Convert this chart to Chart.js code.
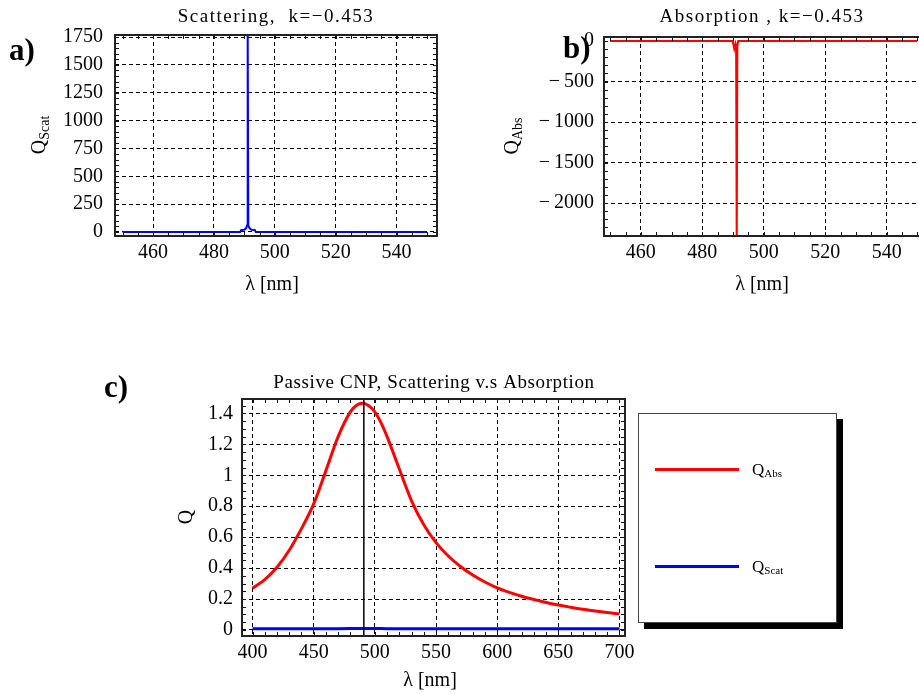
<!DOCTYPE html>
<html lang="en">
<head>
<meta charset="UTF-8">
<title>Passive CNP scattering and absorption</title>
<style>
    * { box-sizing: border-box; margin: 0; padding: 0; }
    html, body { width: 919px; height: 694px; overflow: hidden; background: #fff; }
    canvas { position: absolute; }
    #chartA { left: 0; top: 0; }
    #chartB { left: 450px; top: 0; }
    #chartC { left: 100px; top: 360px; }
    #legendC {
        position: absolute; left: 638px; top: 413px; width: 199px; height: 210px;
        border: 1.5px solid #444; background: #fff; box-shadow: 6px 6px 0 #000;
        font-family: "Liberation Serif", serif; color: #000;
    }
    .item { position: absolute; left: 16px; width: 170px; height: 24px; }
    .item .swatch { position: absolute; left: 0; top: 10px; width: 84px; height: 3px; }
    .item .name { position: absolute; left: 97px; top: 0; font-size: 17px; line-height: 24px; }
    .item sub { font-size: 11px; vertical-align: -2px; }
</style>
</head>
<body>
    <canvas id="chartA" width="450" height="300"></canvas>
    <canvas id="chartB" width="490" height="300"></canvas>
    <canvas id="chartC" width="570" height="334"></canvas>
    <div id="legendC"></div>

    <script src="https://cdn.jsdelivr.net/npm/chart.js@4.4.1/dist/chart.umd.min.js"></script>
    <script>
        "use strict";

        // a) scattering, k = -0.453
        const scatLambda = [450, 480, 488.6, 489.0, 490.0, 490.6, 490.9, 491.1, 491.3, 491.7, 492.3, 493.4, 493.8, 500, 520, 550]
        const scatQ      = [0,   0,   0,     18,    20,    35,    60,    1790,  60,    35,    20,    18,    0,     0,   0,   0]

        // b) absorption, k = -0.453
        const absLambda  = [450, 480, 489.9, 490.4, 490.8, 491.0, 491.2, 491.4, 491.7, 500, 520, 550]
        const absQ       = [0,   0,   0,     -95,   -30,   -60,   -2600, -60,   0,     0,   0,   0]

        // c) passive CNP, scattering vs absorption
        const cLambda = [400, 410, 420, 430, 440, 450, 460, 470, 480, 485, 490, 495, 500, 505, 510, 520, 530, 540,
                         550, 560, 570, 580, 590, 600, 610, 620, 630, 640, 650, 660, 670, 680, 690, 700]
        const cQAbs   = [0.27, 0.325, 0.405, 0.515, 0.655, 0.815, 1.03, 1.25, 1.41, 1.452, 1.466, 1.45, 1.41, 1.34, 1.25, 1.04, 0.835, 0.68,
                         0.565, 0.478, 0.41, 0.355, 0.31, 0.272, 0.243, 0.218, 0.197, 0.178, 0.161, 0.147, 0.134, 0.123, 0.113, 0.104]
        const cQScat  = [0.008, 0.008, 0.008, 0.008, 0.008, 0.008, 0.008, 0.008, 0.009, 0.009, 0.009, 0.009, 0.009, 0.009, 0.008, 0.008, 0.008, 0.008,
                         0.008, 0.008, 0.008, 0.008, 0.008, 0.008, 0.008, 0.008, 0.008, 0.008, 0.008, 0.008, 0.008, 0.008, 0.008, 0.008]
        const peakLambda = [491, 491]
        const peakQ      = [-0.04, 1.5]

        const seriesNames  = [["Q", "Abs"], ["Q", "Scat"]]
        const seriesColors = ["#ff0000", "#0000ff"]

        // tick labels
        const abTicksX = [460, 480, 500, 520, 540]
        const aTicksY  = [0, 250, 500, 750, 1000, 1250, 1500, 1750]
        const bTicksY  = [0, -500, -1000, -1500, -2000]
        const cTicksX  = [400, 450, 500, 550, 600, 650, 700]
        const cTicksY  = [0, 0.2, 0.4, 0.6, 0.8, 1, 1.2, 1.4]

        const SERIF = '"Liberation Serif", "Times New Roman", serif'

        function pts(xs, ys) {
            return xs.map((x, i) => ({ x: x, y: ys[i] }))
        }

        function minusFmt(v) {
            return v < 0 ? "\u2212\u2009" + Math.abs(v) : String(v)
        }

        // text with a subscript, optionally rotated (y-axis labels)
        function drawSubText(ctx, main, sub, x, y, size, rotated) {
            ctx.save()
            ctx.translate(x, y)
            if (rotated) ctx.rotate(-Math.PI / 2)
            ctx.font = size + "px " + SERIF
            const w1 = ctx.measureText(main).width
            ctx.font = Math.round(size * 0.68) + "px " + SERIF
            const w2 = sub ? ctx.measureText(sub).width : 0
            let x0 = -(w1 + w2) / 2
            ctx.textBaseline = "middle"
            ctx.textAlign = "left"
            ctx.fillStyle = "#000"
            ctx.font = size + "px " + SERIF
            ctx.fillText(main, x0, 0)
            if (sub) {
                ctx.font = Math.round(size * 0.68) + "px " + SERIF
                ctx.fillText(sub, x0 + w1, size * 0.28)
            }
            ctx.restore()
        }

        // mathematica style frame, minor ticks and the panel texts
        const frameDecor = {
            id: "frameDecor",
            afterDatasetsDraw(chart, args, o) {
                const ctx = chart.ctx
                const a = chart.chartArea
                const sx = chart.scales.x, sy = chart.scales.y
                ctx.save()
                ctx.strokeStyle = "#111"
                ctx.lineWidth = 1
                for (let v = Math.ceil(sx.min / o.minorX) * o.minorX; v <= sx.max; v += o.minorX) {
                    const px = Math.round(sx.getPixelForValue(v)) + 0.5
                    ctx.beginPath()
                    ctx.moveTo(px, a.top); ctx.lineTo(px, a.top + 4)
                    ctx.moveTo(px, a.bottom); ctx.lineTo(px, a.bottom - 4)
                    ctx.stroke()
                }
                for (let v = Math.ceil(sy.min / o.minorY) * o.minorY; v <= sy.max; v += o.minorY) {
                    const py = Math.round(sy.getPixelForValue(v)) + 0.5
                    ctx.beginPath()
                    ctx.moveTo(a.left, py); ctx.lineTo(a.left + 4, py)
                    ctx.moveTo(a.right, py); ctx.lineTo(a.right - 4, py)
                    ctx.stroke()
                }
                ctx.lineWidth = 2
                ctx.strokeStyle = "#222"
                ctx.strokeRect(a.left, a.top, a.right - a.left, a.bottom - a.top)
                ctx.restore()
            },
            afterDraw(chart, args, o) {
                const ctx = chart.ctx
                ctx.save()
                ctx.fillStyle = "#000"
                ctx.textBaseline = "alphabetic"
                // title
                ctx.font = o.title.size + "px " + SERIF
                ctx.letterSpacing = o.title.spacing + "px"
                ctx.textAlign = "center"
                ctx.fillText(o.title.text, o.title.x, o.title.y)
                ctx.letterSpacing = "0px"
                // panel letter
                ctx.font = "bold 31px " + SERIF
                ctx.textAlign = "left"
                ctx.fillText(o.letter.text, o.letter.x, o.letter.y)
                // x label
                ctx.font = "20px " + SERIF
                ctx.textAlign = "center"
                ctx.fillText(o.xLabel.text, o.xLabel.x, o.xLabel.y)
                ctx.restore()
                drawSubText(ctx, o.yLabel.main, o.yLabel.sub, o.yLabel.x, o.yLabel.y, 20, true)
            }
        }

        function makeChart(id, c) {
            return new Chart(document.getElementById(id), {
                type: "scatter",
                data: { datasets: c.datasets },
                options: {
                    responsive: false,
                    animation: false,
                    devicePixelRatio: 1,
                    layout: { padding: c.padding },
                    plugins: {
                        legend: { display: false },
                        tooltip: { enabled: false },
                        title: { display: false },
                        frameDecor: c.decor
                    },
                    scales: {
                        x: {
                            type: "linear", min: c.xRange[0], max: c.xRange[1],
                            afterFit: s => { s.height = c.xAxisHeight },
                            afterBuildTicks: s => { s.ticks = c.xTicks.map(v => ({ value: v })) },
                            ticks: { padding: 5, color: "#000", autoSkip: false, maxRotation: 0,
                                     font: { family: SERIF, size: 20 }, callback: v => minusFmt(v) },
                            grid: { color: "#000", lineWidth: 1, drawTicks: false },
                            border: { display: false, dash: [4, 3] }
                        },
                        y: {
                            type: "linear", min: c.yRange[0], max: c.yRange[1],
                            afterFit: s => { s.width = c.yAxisWidth },
                            afterBuildTicks: s => { s.ticks = c.yTicks.map(v => ({ value: v })) },
                            ticks: { padding: c.yPad, color: "#000", autoSkip: false,
                                     font: { family: SERIF, size: 20 }, callback: v => minusFmt(v) },
                            grid: { color: "#000", lineWidth: 1, drawTicks: false },
                            border: { display: false, dash: [4, 3] }
                        }
                    }
                },
                plugins: [frameDecor]
            })
        }

        const lineDs = (data, color, width, smooth) => ({
            data: data, showLine: true, borderColor: color, borderWidth: width,
            pointRadius: 0, fill: false,
            tension: smooth ? 0.4 : 0,
            cubicInterpolationMode: smooth ? "monotone" : "default"
        })

        makeChart("chartA", {
            datasets: [lineDs(pts(scatLambda, scatQ), "#0000ff", 2, false)],
            xRange: [447.5, 553.3], yRange: [-36, 1768],
            xTicks: abTicksX, yTicks: aTicksY,
            padding: { top: 35, right: 13, left: 0, bottom: 0 },
            yAxisWidth: 115, xAxisHeight: 64, yPad: 12,
            decor: {
                minorX: 5, minorY: 50,
                title: { text: "Scattering,  k=\u22120.453", x: 276, y: 22, size: 19, spacing: 1.5 },
                letter: { text: "a)", x: 9, y: 60 },
                xLabel: { text: "\u03bb [nm]", x: 272, y: 290 },
                yLabel: { main: "Q", sub: "Scat", x: 40, y: 135 }
            }
        })

        makeChart("chartB", {
            datasets: [lineDs(pts(absLambda, absQ), "#ff0000", 2, false)],
            xRange: [448, 552.8], yRange: [-2407, 50],
            xTicks: abTicksX, yTicks: bTicksY,
            padding: { top: 37, right: 14, left: 0, bottom: 0 },
            yAxisWidth: 154, xAxisHeight: 64, yPad: 10,
            decor: {
                minorX: 5, minorY: 100,
                title: { text: "Absorption , k=\u22120.453", x: 312, y: 22, size: 19, spacing: 1.5 },
                letter: { text: "b)", x: 113, y: 58 },
                xLabel: { text: "\u03bb [nm]", x: 312, y: 290 },
                yLabel: { main: "Q", sub: "Abs", x: 63, y: 136 }
            }
        })

        makeChart("chartC", {
            datasets: [
                lineDs(pts(peakLambda, peakQ), "#000000", 1.5, false),
                lineDs(pts(cLambda, cQAbs), seriesColors[0], 3, true),
                lineDs(pts(cLambda, cQScat), seriesColors[1], 3, false)
            ],
            xRange: [391.4, 704.5], yRange: [-0.039, 1.493],
            xTicks: cTicksX, yTicks: cTicksY,
            padding: { top: 39, right: 45, left: 0, bottom: 0 },
            yAxisWidth: 142, xAxisHeight: 58, yPad: 9,
            decor: {
                minorX: 10, minorY: 0.05,
                title: { text: "Passive CNP, Scattering v.s Absorption", x: 334, y: 28, size: 19, spacing: 0.6 },
                letter: { text: "c)", x: 4, y: 37 },
                xLabel: { text: "\u03bb [nm]", x: 330, y: 326 },
                yLabel: { main: "Q", sub: "", x: 87, y: 157 }
            }
        })

        // legend box for panel c
        const legendTops = [44, 141]
        const legend = document.getElementById("legendC")
        seriesNames.forEach((n, i) => {
            const item = document.createElement("div")
            item.className = "item"
            item.style.top = legendTops[i] + "px"
            item.innerHTML = '<span class="swatch" style="background:' + seriesColors[i] + '"></span>' +
                             '<span class="name">' + n[0] + '<sub>' + n[1] + '</sub></span>'
            legend.appendChild(item)
        })
    </script>
</body>
</html>
